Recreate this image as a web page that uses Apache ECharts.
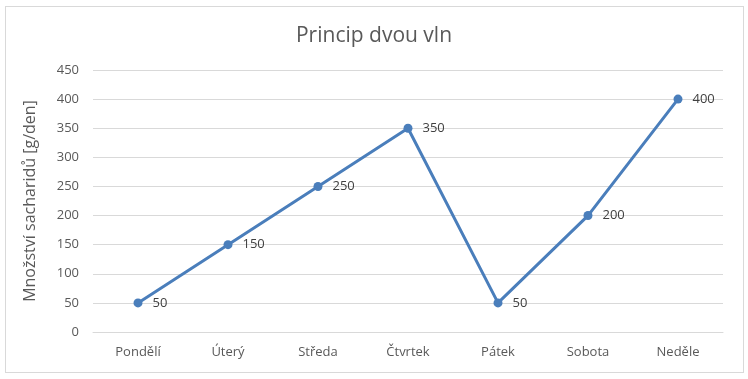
<!DOCTYPE html>
<html><head><meta charset="utf-8">
<script src="https://cdn.jsdelivr.net/npm/echarts@6/dist/echarts.min.js"></script>
<style>
html,body{margin:0;padding:0;background:#fff;}
#frame{position:absolute;left:5px;top:6px;width:737px;height:365px;border:1px solid #d9d9d9;}
#c{position:absolute;left:0;top:0;width:748px;height:379px;}
</style></head>
<body><div id="frame"></div><div id="c"></div>
<script>
const titleText = "Princip dvou vln";
const yAxisName = "Množství sacharidů [g/den]";
const categories = ["Pondělí","Úterý","Středa","Čtvrtek","Pátek","Sobota","Neděle"];
const values = [50,150,250,350,50,200,400];

const chart = echarts.init(document.getElementById('c'));
const font = "'Open Sans', 'Liberation Sans', sans-serif";
chart.setOption({
  animation:false,
  title:{text:titleText,left:'center',top:21,textStyle:{fontFamily:font,fontSize:21,fontWeight:'normal',color:'#595959'}},
  grid:{left:93,right:25,top:70,bottom:47},
  xAxis:{type:'category',data:categories,boundaryGap:true,
    axisLine:{lineStyle:{color:'#d9d9d9'}},axisTick:{show:false},
    axisLabel:{fontFamily:font,fontSize:13,color:'#595959',margin:14}},
  yAxis:{type:'value',min:0,max:450,interval:50,name:yAxisName,nameLocation:'middle',nameGap:55,
    nameTextStyle:{fontFamily:font,fontSize:16,color:'#595959'},
    axisLine:{show:false},axisTick:{show:false},
    splitLine:{lineStyle:{color:'#d9d9d9'}},
    axisLabel:{fontFamily:font,fontSize:13,color:'#595959',margin:14}},
  series:[{type:'line',data:values,symbol:'circle',symbolSize:9,
    lineStyle:{width:3,color:'#4a7ebb'},itemStyle:{color:'#4a7ebb'},
    label:{show:true,position:'right',distance:10,fontFamily:font,fontSize:13,color:'#404040'}}]
});
</script></body></html>
